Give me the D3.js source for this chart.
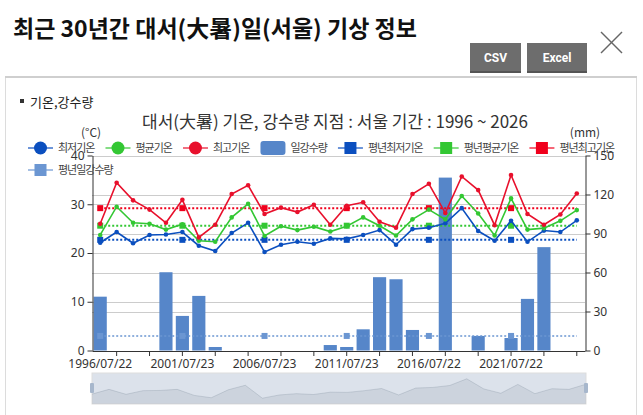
<!DOCTYPE html>
<html>
<head>
<meta charset="utf-8">
<script src="https://cdn.jsdelivr.net/npm/d3@7"></script>
<style>
body { margin: 0; background: #fff; overflow: hidden; }
svg { display: block; font-family: "Noto Sans CJK KR", "Noto Sans", sans-serif; }
</style>
</head>
<body>
<svg id="chart" width="643" height="415"></svg>
<script>

// 대서일 날짜 (x축)
var dates = ["1996/07/22","1997/07/23","1998/07/23","1999/07/23","2000/07/22",
	"2001/07/23","2002/07/23","2003/07/23","2004/07/22","2005/07/23",
	"2006/07/23","2007/07/23","2008/07/22","2009/07/23","2010/07/23",
	"2011/07/23","2012/07/22","2013/07/23","2014/07/23","2015/07/23",
	"2016/07/22","2017/07/22","2018/07/23","2019/07/23","2020/07/22",
	"2021/07/22","2022/07/23","2023/07/23","2024/07/22","2025/07/22"];

var minTemp = [22.1,24.3,22.0,23.7,23.8,24.3,21.5,20.4,24.1,26.2,
	20.2,21.7,22.3,21.9,23.0,22.9,23.7,24.7,21.7,24.9,
	25.2,26.1,29.2,24.5,22.5,26.6,22.3,24.6,24.3,26.7];
var avgTemp = [23.7,29.5,26.2,26.0,24.8,25.9,22.5,22.3,27.3,30.1,
	23.5,25.5,24.7,25.4,24.4,25.5,27.3,25.6,23.6,26.9,
	28.9,26.9,31.7,28.1,23.6,31.2,24.8,25.1,26.6,28.8];
var maxTemp = [26.0,34.4,30.8,28.9,26.2,30.9,23.2,25.8,32.1,33.9,
	28.0,29.3,28.4,29.9,25.8,29.7,30.4,26.4,25.2,32.1,
	34.2,28.2,35.7,32.9,25.7,36.0,28.0,25.8,27.9,32.2];
var rain = [41.4,0,0,0,60.2,26.6,42.0,2.7,0,0,
	0,0,0,0,4.2,2.7,16.3,56.4,54.8,15.8,
	0,133.0,0,11.2,0,9.6,39.7,79.5,0,0];

// 평년값
var normalMin = 22.7, normalAvg = 25.6, normalMax = 29.2, normalRain = 11.2;

var tempTicks = [0,10,20,30,40];
var rainTicks = [0,30,60,90,120,150];

var legendItems = [
	{name: "최저기온", type: "circle", color: "#0b4fbf"},
	{name: "평균기온", type: "circle", color: "#33c733"},
	{name: "최고기온", type: "circle", color: "#e8102c"},
	{name: "일강수량", type: "bar", color: "#5686c9"},
	{name: "평년최저기온", type: "square", color: "#0b4fbf"},
	{name: "평년평균기온", type: "square", color: "#33c733"},
	{name: "평년최고기온", type: "square", color: "#f0001c"},
	{name: "평년일강수량", type: "square", color: "#6b96d2"}
];

var svg = d3.select("#chart");

// ---- 상단 헤더 ----
svg.append("text").attr("x", 13).attr("y", 37)
	.style("font-size", "23px").style("font-weight", "bold").attr("fill", "#111")
	.text("최근 30년간 대서(大暑)일(서울) 기상 정보");

svg.append("g").attr("stroke", "#666").attr("stroke-width", 1.4)
	.selectAll("line").data([[601,32,622,53],[622,32,601,53]]).enter().append("line")
	.attr("x1", function(d){ return d[0]; }).attr("y1", function(d){ return d[1]; })
	.attr("x2", function(d){ return d[2]; }).attr("y2", function(d){ return d[3]; });

var buttons = [{t: "CSV", x: 470, w: 51}, {t: "Excel", x: 527, w: 60}];
var btn = svg.selectAll("g.btn").data(buttons).enter().append("g").attr("class", "btn");
btn.append("rect").attr("x", function(d){ return d.x; }).attr("y", 43)
	.attr("width", function(d){ return d.w; }).attr("height", 30).attr("fill", "#6d6d6d");
btn.append("rect").attr("x", function(d){ return d.x; }).attr("y", 71)
	.attr("width", function(d){ return d.w; }).attr("height", 2).attr("fill", "#555");
btn.append("text").attr("x", function(d){ return d.x + d.w / 2; }).attr("y", 62)
	.attr("text-anchor", "middle").attr("fill", "#fff")
	.style("font-family", "'Liberation Sans Narrow', 'Roboto', sans-serif")
	.style("font-size", "12px").style("font-weight", "bold")
	.text(function(d){ return d.t; });

// 패널
svg.append("rect").attr("x", 5.5).attr("y", 77.5).attr("width", 631).attr("height", 345)
	.attr("fill", "none").attr("stroke", "#dcdcdc");
svg.append("rect").attr("x", 5).attr("y", 76).attr("width", 632).attr("height", 2).attr("fill", "#cfcfcf");

svg.append("rect").attr("x", 20).attr("y", 99).attr("width", 4).attr("height", 4).attr("fill", "#333");
svg.append("text").attr("x", 30).attr("y", 107).style("font-size", "13px").attr("fill", "#222")
	.text("기온,강수량");

svg.append("text").attr("x", 335).attr("y", 128).attr("text-anchor", "middle")
	.style("font-size", "17px").attr("fill", "#333")
	.text("대서(大暑) 기온, 강수량  지점 : 서울 기간 : 1996 ~ 2026");

// ---- 스케일 ----
var pL = 92, pR = 585, pT = 155.5, pB = 350.5;
var x = d3.scaleBand().domain(d3.range(dates.length)).range([pL, pR])
	.paddingInner(0.2).paddingOuter(0.1);
var cx = function(i){ return x(i) + x.bandwidth() / 2; };
var yT = d3.scaleLinear().domain([0, 40]).range([pB, pT]);
var yR = d3.scaleLinear().domain([0, 150]).range([pB, pT]);

// 그리드
var grid = svg.append("g").attr("stroke", "#cccccc").attr("stroke-width", 1);
tempTicks.slice(1).forEach(function(v){
	grid.append("line").attr("x1", pL).attr("x2", pR)
		.attr("y1", Math.round(yT(v)) + 0.5).attr("y2", Math.round(yT(v)) + 0.5);
});
rainTicks.slice(1).forEach(function(v){
	grid.append("line").attr("x1", pL).attr("x2", pR)
		.attr("y1", Math.round(yR(v)) + 0.5).attr("y2", Math.round(yR(v)) + 0.5);
});

// 막대 (일강수량)
svg.append("g").selectAll("rect").data(rain).enter().append("rect")
	.attr("x", function(d, i){ return x(i); })
	.attr("width", x.bandwidth())
	.attr("y", function(d){ return yR(d); })
	.attr("height", function(d){ return pB - yR(d); })
	.attr("fill", "#5686c9");

// 평년 점선
var idx = d3.range(dates.length);
var markIdx = idx.filter(function(i){ return i % 5 === 0; });
function normalLine(value, scale, color, width) {
	svg.append("line").attr("x1", cx(0)).attr("x2", cx(dates.length - 1))
		.attr("y1", scale(value)).attr("y2", scale(value))
		.attr("stroke", color).attr("stroke-width", width).attr("stroke-dasharray", "2,2");
	svg.append("g").selectAll("rect").data(markIdx).enter().append("rect")
		.attr("x", function(i){ return cx(i) - 3; }).attr("y", scale(value) - 3)
		.attr("width", 6).attr("height", 6).attr("fill", color);
}
normalLine(normalRain, yR, "#6b96d2", 1.5);
normalLine(normalMin, yT, "#0b4fbf", 2);
normalLine(normalAvg, yT, "#33c733", 2);
normalLine(normalMax, yT, "#f0001c", 2);

// 기온 꺾은선
function series(values, color) {
	var line = d3.line().x(function(d, i){ return cx(i); }).y(function(d){ return yT(d); });
	svg.append("path").datum(values).attr("d", line)
		.attr("fill", "none").attr("stroke", color).attr("stroke-width", 1.6);
	svg.append("g").selectAll("circle").data(values).enter().append("circle")
		.attr("cx", function(d, i){ return cx(i); }).attr("cy", function(d){ return yT(d); })
		.attr("r", 2.3).attr("fill", color);
}
series(minTemp, "#0b4fbf");
series(avgTemp, "#33c733");
series(maxTemp, "#e8102c");

// ---- 축 ----
function styleAxis(g) {
	g.selectAll("path.domain").attr("stroke", "#333");
	g.selectAll(".tick line").attr("stroke", "#333");
	g.selectAll("text").style("font-size", "12px").attr("fill", "#333")
		.style("font-family", "'Noto Sans', sans-serif");
}
svg.append("g").attr("transform", "translate(" + (pL + 0.5) + ",0)")
	.call(d3.axisLeft(yT).tickValues(tempTicks).tickSize(5).tickSizeOuter(0).tickPadding(3))
	.call(styleAxis);
svg.append("g").attr("transform", "translate(" + (pR + 0.5) + ",0)")
	.call(d3.axisRight(yR).tickValues(rainTicks).tickSize(5).tickSizeOuter(0).tickPadding(3))
	.call(styleAxis);

svg.append("g").attr("transform", "translate(0," + (pB + 0.5) + ")")
	.call(d3.axisBottom(x).tickValues(markIdx).tickSize(0).tickSizeOuter(0).tickPadding(8)
		.tickFormat(function(i){ return dates[i]; }))
	.call(styleAxis);
svg.append("g").attr("transform", "translate(0," + (pB + 0.5) + ")")
	.call(d3.axisBottom(x).tickValues(idx.filter(function(i){ return i % 2 === 1; }))
		.tickSize(5).tickFormat(""))
	.call(function(g){ g.select("path.domain").remove(); })
	.call(styleAxis);

svg.append("text").attr("x", 91).attr("y", 137).attr("text-anchor", "middle")
	.style("font-size", "12px").attr("fill", "#333").text("(°C)");
svg.append("text").attr("x", 585).attr("y", 137).attr("text-anchor", "middle")
	.style("font-size", "12px").attr("fill", "#333").text("(mm)");

// ---- 범례 ----
var lx = 28, ly = 148;
legendItems.forEach(function(item, k) {
	if (k === 7) { lx = 28; ly = 170; }
	var g = svg.append("g").attr("transform", "translate(" + lx + "," + ly + ")");
	if (item.type === "bar") {
		g.append("rect").attr("x", 0).attr("y", -7).attr("width", 25).attr("height", 14)
			.attr("rx", 3).attr("fill", item.color);
	} else {
		g.append("line").attr("x1", 0).attr("x2", 25).attr("stroke", item.color)
			.attr("stroke-width", 2).attr("stroke-opacity", 0.6);
		if (item.type === "circle") {
			g.append("circle").attr("cx", 12.5).attr("r", 6.5).attr("fill", item.color);
		} else {
			g.append("rect").attr("x", 6.5).attr("y", -6).attr("width", 12).attr("height", 12)
				.attr("fill", item.color);
		}
	}
	var t = g.append("text").attr("x", 30).attr("y", 4)
		.style("font-size", "11px").style("letter-spacing", "-1px").attr("fill", "#444").text(item.name);
	lx += 30 + t.node().getComputedTextLength() + 11;
});

// ---- 데이터줌 슬라이더 ----
var zl = 92, zr = 586, zt = 373, zb = 404;
svg.append("rect").attr("x", zl).attr("y", zt).attr("width", zr - zl).attr("height", zb - zt)
	.attr("fill", "rgba(167,183,204,0.4)").attr("stroke", "#ddd");
var ext = d3.extent(minTemp), off = (ext[1] - ext[0]) * 0.3;
var sx = d3.scaleLinear().domain([0, minTemp.length - 1]).range([zl, zr]);
var sy = d3.scaleLinear().domain([ext[0] - off, ext[1] + off]).range([zb, zt]);
svg.append("path").datum(minTemp)
	.attr("d", d3.area().x(function(d, i){ return sx(i); }).y0(zb).y1(function(d){ return sy(d); }))
	.attr("fill", "rgba(47,69,84,0.09)");
svg.append("path").datum(minTemp)
	.attr("d", d3.line().x(function(d, i){ return sx(i); }).y(function(d){ return sy(d); }))
	.attr("fill", "none").attr("stroke", "rgba(47,69,84,0.3)").attr("stroke-width", 0.5);
[zl, zr].forEach(function(hx){
	svg.append("rect").attr("x", hx - 2).attr("y", 383).attr("width", 4).attr("height", 10)
		.attr("rx", 1).attr("fill", "#a7b7cc");
});

</script>
</body>
</html>
